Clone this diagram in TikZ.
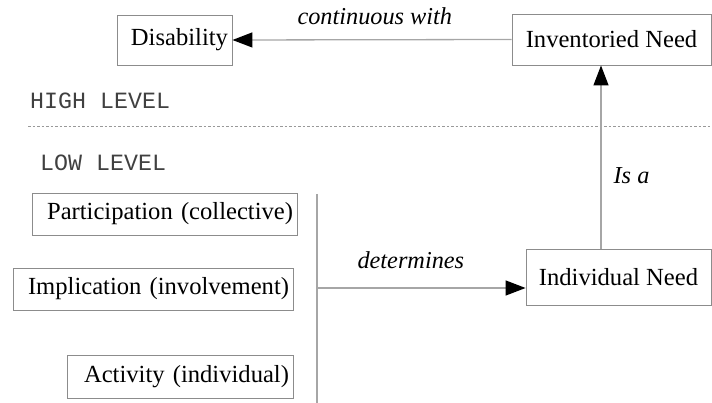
\documentclass[tikz,border=0pt]{standalone}
\usepackage{fontspec}
\setmainfont{Liberation Serif}
\setmonofont{Liberation Mono}
\usetikzlibrary{arrows.meta}
\begin{document}
\begin{tikzpicture}[x=1pt,y=-1pt,
  box/.style={draw=black!45, line width=0.9pt, inner xsep=4pt, inner ysep=0pt, font=\fontsize{24.6}{28}\selectfont},
  conn/.style={draw=black!35, line width=1.3pt},
  arr/.style={conn, -{Triangle[length=20pt,width=15pt,fill=black,color=black]}},
  lbl/.style={font=\fontsize{24.3}{28}\selectfont\itshape, inner sep=0pt},
  lvl/.style={font=\fontsize{23.3}{26}\selectfont\ttfamily, color=black!75, inner sep=0pt, anchor=west}]
\useasboundingbox (0,0) rectangle (712,403);
\node[box, text width=107pt, align=right, minimum height=50pt] (dis) at (174.5,40) {Disability};
\node[box, minimum width=199pt, minimum height=51pt] (inv) at (611.5,39.5) {Inventoried Need};
\node[box, minimum width=185pt, minimum height=56pt] (ind) at (618.5,277) {Individual Need};
\node[box, text width=257pt, align=right, minimum height=42pt] (par) at (164.5,214) {Participation (collective)};
\node[box, text width=272pt, align=right, minimum height=42pt] (imp) at (153,289) {Implication (involvement)};
\node[box, text width=218pt, align=right, minimum height=43pt] (act) at (180,376.5) {Activity (individual)};
\node[lvl] (high) at (30,101) {HIGH LEVEL};
\node[lvl] (low) at (40,163) {LOW LEVEL};
\coordinate (dl) at (28,126.5);
\coordinate (dr) at (712,126.5);
\draw[draw=black!40, line width=0.8pt, dash pattern=on 2.5pt off 2pt] (dl) -- (dr);
\coordinate (vt) at (317,194);
\coordinate (vb) at (317,403);
\coordinate (vm) at (317,288);
\draw[conn] (vt) -- (vb);
\draw[arr] (vm) -- (vm -| ind.west) node[lbl, pos=0.45, above=19pt] (det) {determines};
\draw[arr] (inv.west) -- (dis.east) node[lbl, pos=0.49, above=14pt] (cont) {continuous with};
\draw[arr] (ind.north -| 601,0) -- (inv.south -| 601,0) node[lbl, pos=0.4, right=12pt] (isa) {Is a};
\end{tikzpicture}
\end{document}
